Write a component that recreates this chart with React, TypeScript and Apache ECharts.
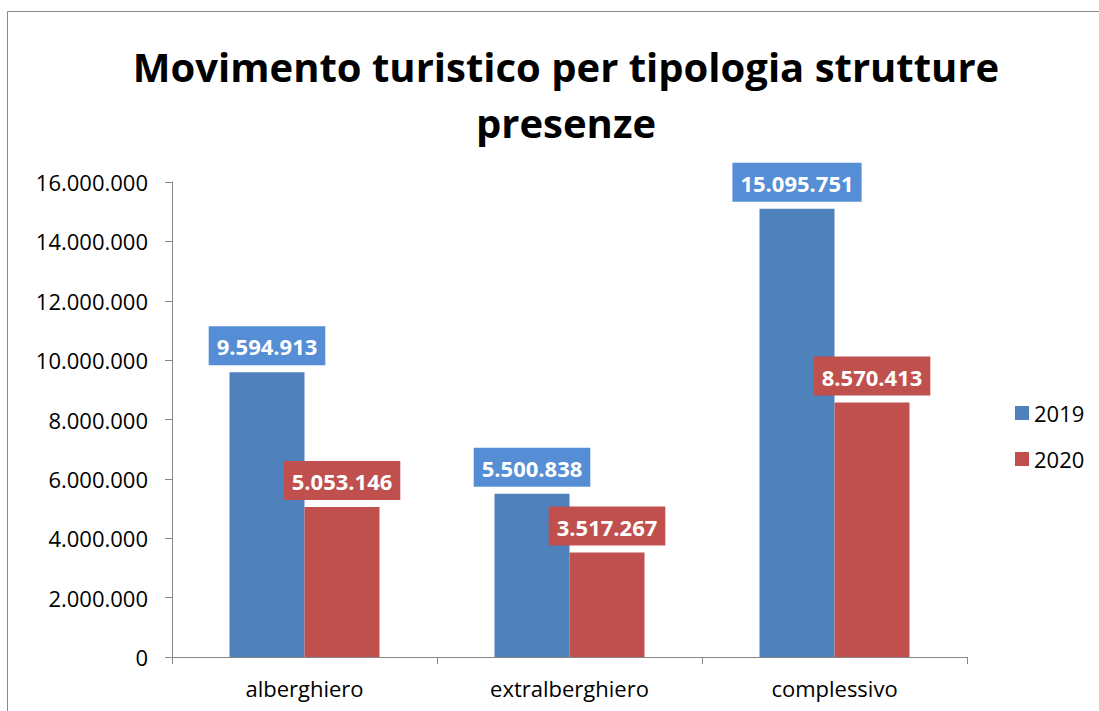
import React, { useEffect, useRef } from "react";
import * as echarts from "echarts";

const categories = ["alberghiero", "extralberghiero", "complessivo"];
const values2019 = [9594913, 5500838, 15095751];
const values2020 = [5053146, 3517267, 8570413];
const seriesNames = ["2019", "2020"];
const titleText = "Movimento turistico per tipologia strutture\npresenze";

const fmt = (v: number) => String(Math.round(v)).replace(/\B(?=(\d{3})+(?!\d))/g, ".");

export default function App() {
  const ref = useRef<HTMLDivElement>(null);
  useEffect(() => {
    if (!ref.current) return;
    const chart = echarts.init(ref.current, null, { renderer: "svg" });
    const font = "'Open Sans', 'Liberation Sans', sans-serif";
    const labelCfg = (bg: string) => ({
      show: true,
      position: "top",
      distance: 7,
      formatter: (p: any) => fmt(p.value),
      backgroundColor: bg,
      color: "#ffffff",
      fontWeight: "bold",
      fontSize: 22,
      fontFamily: font,
      padding: [9, 8, 8, 8],
    });
    chart.setOption({
      animation: false,
      textStyle: { fontFamily: font },
      title: {
        text: titleText,
        left: 561,
        textAlign: "center",
        top: 33,
        textStyle: { fontSize: 40, fontWeight: "bold", color: "#000", lineHeight: 56, fontFamily: font },
      },
      graphic: [
        { type: "line", shape: { x1: 7.5, y1: 11.5, x2: 1099, y2: 11.5 }, style: { stroke: "#888", lineWidth: 1 } },
        { type: "line", shape: { x1: 7.5, y1: 11.5, x2: 7.5, y2: 711 }, style: { stroke: "#888", lineWidth: 1 } },
      ],
      legend: {
        orient: "vertical",
        left: 1010,
        top: 397,
        itemWidth: 14,
        itemHeight: 14,
        itemGap: 24,
        icon: "rect",
        textStyle: { fontSize: 22, color: "#000", fontFamily: font },
        data: seriesNames,
      },
      grid: { left: 172, right: 132, top: 182, bottom: 54, containLabel: false },
      xAxis: {
        type: "category",
        data: categories,
        axisLine: { lineStyle: { color: "#868686" } },
        axisTick: { show: true, length: 7, lineStyle: { color: "#868686" } },
        axisLabel: { fontSize: 22, color: "#000", margin: 20, fontFamily: font },
      },
      yAxis: {
        type: "value",
        min: 0,
        max: 16000000,
        interval: 2000000,
        axisLine: { show: true, lineStyle: { color: "#868686" } },
        axisTick: { show: true, length: 7, lineStyle: { color: "#868686" } },
        splitLine: { show: false },
        axisLabel: { fontSize: 22, color: "#000", margin: 24, formatter: (v: number) => fmt(v), fontFamily: font },
      },
      series: [
        {
          name: seriesNames[0],
          type: "bar",
          data: values2019,
          barWidth: 75,
          barGap: "0%",
          itemStyle: { color: "#4F81BD" },
          label: labelCfg("#558ED5"),
        },
        {
          name: seriesNames[1],
          type: "bar",
          data: values2020,
          barWidth: 75,
          barGap: "0%",
          itemStyle: { color: "#C0504D" },
          label: labelCfg("#C0504D"),
        },
      ],
    });
    return () => chart.dispose();
  }, []);
  return <div ref={ref} style={{ position: "absolute", left: 0, top: 0, width: 1099, height: 711 }} />;
}
